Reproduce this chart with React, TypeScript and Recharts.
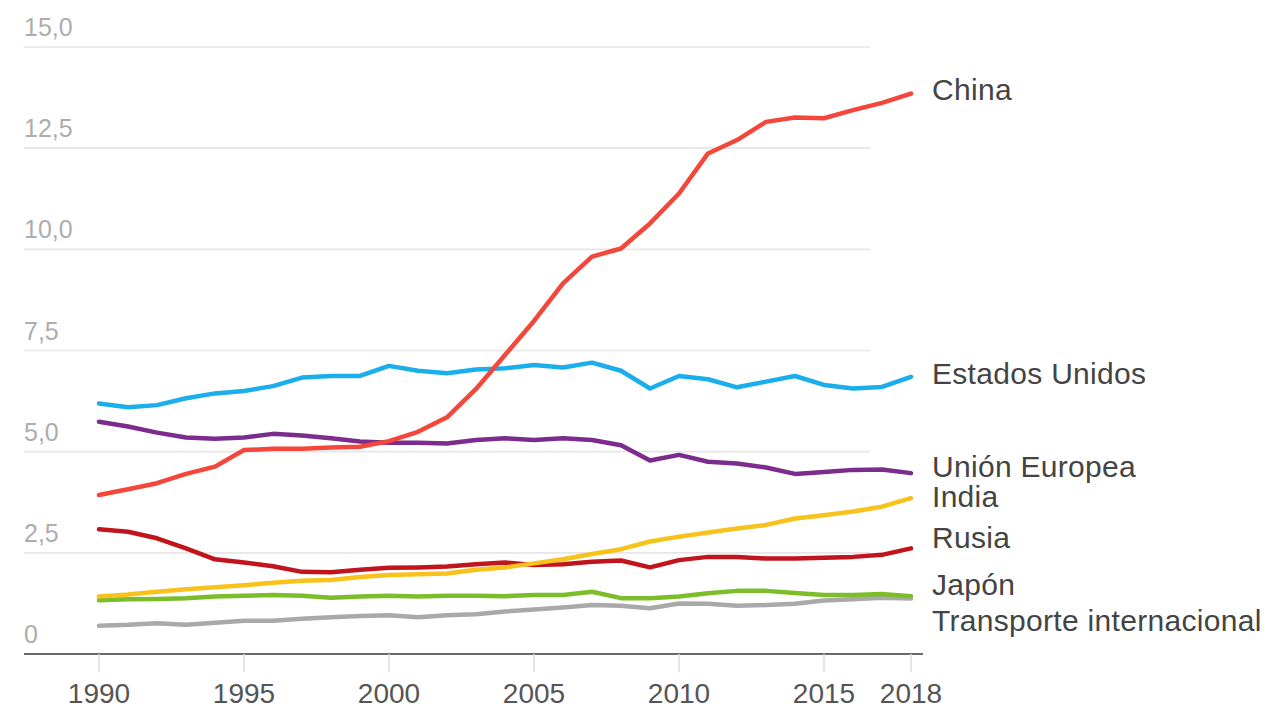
import React from 'react';
import { LineChart, Line, XAxis, YAxis, CartesianGrid, LabelList } from 'recharts';

const years = [1990, 1991, 1992, 1993, 1994, 1995, 1996, 1997, 1998, 1999, 2000, 2001, 2002, 2003, 2004, 2005, 2006, 2007, 2008, 2009, 2010, 2011, 2012, 2013, 2014, 2015, 2016, 2017, 2018];

const china = [3.93, 4.07, 4.22, 4.45, 4.63, 5.04, 5.07, 5.07, 5.1, 5.12, 5.26, 5.49, 5.85, 6.55, 7.39, 8.23, 9.16, 9.82, 10.02, 10.64, 11.38, 12.37, 12.7, 13.15, 13.26, 13.24, 13.44, 13.62, 13.85];
const estadosUnidos = [6.19, 6.1, 6.15, 6.32, 6.44, 6.5, 6.62, 6.83, 6.87, 6.87, 7.12, 7.0, 6.94, 7.03, 7.06, 7.14, 7.08, 7.2, 7.0, 6.56, 6.87, 6.79, 6.59, 6.73, 6.87, 6.65, 6.56, 6.6, 6.85];
const unionEuropea = [5.74, 5.62, 5.47, 5.35, 5.32, 5.35, 5.44, 5.4, 5.33, 5.25, 5.22, 5.22, 5.2, 5.29, 5.33, 5.29, 5.33, 5.29, 5.16, 4.78, 4.92, 4.75, 4.71, 4.61, 4.45, 4.5, 4.55, 4.56, 4.47];
const india = [1.42, 1.47, 1.54, 1.6, 1.65, 1.7, 1.76, 1.81, 1.83, 1.9, 1.95, 1.97, 1.99, 2.08, 2.14, 2.24, 2.34, 2.47, 2.59, 2.78, 2.9, 3.0, 3.1, 3.19, 3.35, 3.43, 3.52, 3.64, 3.85];
const rusia = [3.08, 3.02, 2.86, 2.61, 2.34, 2.26, 2.17, 2.03, 2.02, 2.08, 2.13, 2.14, 2.16, 2.22, 2.26, 2.2, 2.22, 2.28, 2.31, 2.14, 2.32, 2.4, 2.4, 2.36, 2.36, 2.38, 2.4, 2.45, 2.61];
const japon = [1.33, 1.35, 1.36, 1.38, 1.42, 1.44, 1.46, 1.44, 1.39, 1.42, 1.44, 1.42, 1.44, 1.44, 1.43, 1.46, 1.46, 1.54, 1.38, 1.38, 1.42, 1.5, 1.56, 1.56, 1.51, 1.46, 1.46, 1.48, 1.43];
const transporte = [0.7, 0.72, 0.76, 0.72, 0.77, 0.82, 0.82, 0.87, 0.91, 0.94, 0.96, 0.91, 0.96, 0.98, 1.05, 1.1, 1.15, 1.21, 1.19, 1.13, 1.25, 1.24, 1.19, 1.21, 1.24, 1.32, 1.35, 1.39, 1.37];

const xTicks = [1990, 1995, 2000, 2005, 2010, 2015, 2018];
const yTicks = [0, 2.5, 5, 7.5, 10, 12.5, 15];
const yTickLabels = ['0', '2,5', '5,0', '7,5', '10,0', '12,5', '15,0'];

const seriesNames = ['China', 'Estados Unidos', 'Unión Europea', 'India', 'Rusia', 'Japón', 'Transporte internacional'];

const data = years.map((year, i) => ({
  year,
  china: china[i],
  eeuu: estadosUnidos[i],
  ue: unionEuropea[i],
  india: india[i],
  rusia: rusia[i],
  japon: japon[i],
  transporte: transporte[i],
}));

const FONT = '"Liberation Sans", Arial, sans-serif';

const series = [
  { key: 'transporte', name: seriesNames[6], color: '#a9a9a9', dy: 32 },
  { key: 'japon', name: seriesNames[5], color: '#7cbd2a', dy: -1 },
  { key: 'rusia', name: seriesNames[4], color: '#c1141c', dy: 0 },
  { key: 'india', name: seriesNames[3], color: '#f8c21c', dy: 9 },
  { key: 'ue', name: seriesNames[2], color: '#7b2c8c', dy: 4 },
  { key: 'eeuu', name: seriesNames[1], color: '#1aaeea', dy: 7 },
  { key: 'china', name: seriesNames[0], color: '#f4473b', dy: 6 },
];

const makeEndLabel = (name: string, dy: number) => (props: any) => {
  const { x, y, index } = props;
  if (index !== years.length - 1) return null;
  return (
    <text x={x + 21} y={y + dy} fill="#444444" fontSize={30} letterSpacing={0.3} fontFamily={FONT}>
      {name}
    </text>
  );
};

const GridLine = (props: any) => {
  const { x1, y1, x2, y2 } = props;
  return <line key={`gl-${y1}`} x1={x1} y1={y1} x2={x2 - 53} y2={y2} stroke="#e6e6e6" strokeWidth={1.6} />;
};

const XTick = (props: any) => {
  const { x, y, payload } = props;
  return (
    <text x={x} y={y} dy={31} textAnchor="middle" fill="#555555" fontSize={28} fontFamily={FONT}>
      {payload.value}
    </text>
  );
};

const YTick = (props: any) => {
  const { y, payload } = props;
  const idx = yTicks.indexOf(payload.value);
  return (
    <text x={24} y={y - 11} textAnchor="start" fill="#adadad" fontSize={25} fontFamily={FONT}>
      {yTickLabels[idx]}
    </text>
  );
};

export default function App() {
  return (
    <div style={{ position: 'absolute', left: 0, top: 0, background: '#fff' }}>
      <LineChart width={1274} height={708} data={data} margin={{ top: 47, right: 351, bottom: 0, left: 0 }}>
        <CartesianGrid vertical={false} horizontal={GridLine} />
        <XAxis
          dataKey="year"
          type="number"
          domain={[1990, 2018]}
          ticks={xTicks}
          padding={{ left: 75, right: 12 }}
          axisLine={{ stroke: '#6a6a6a', strokeWidth: 2 }}
          tickLine={{ stroke: '#dddddd', strokeWidth: 1.5 }}
          tickSize={18}
          tickMargin={0}
          height={54}
          tick={<XTick />}
          interval={0}
        />
        <YAxis
          type="number"
          domain={[0, 15]}
          ticks={yTicks}
          width={24}
          axisLine={false}
          tickLine={false}
          tickSize={0}
          tickMargin={0}
          tick={<YTick />}
          interval={0}
        />
        {series.map((s) => (
          <Line
            key={s.key}
            dataKey={s.key}
            name={s.name}
            type="linear"
            stroke={s.color}
            strokeWidth={4.5}
            dot={false}
            activeDot={false}
            strokeLinejoin="round"
            strokeLinecap="round"
            isAnimationActive={false}
          >
            <LabelList dataKey={s.key} content={makeEndLabel(s.name, s.dy)} />
          </Line>
        ))}
      </LineChart>
    </div>
  );
}
